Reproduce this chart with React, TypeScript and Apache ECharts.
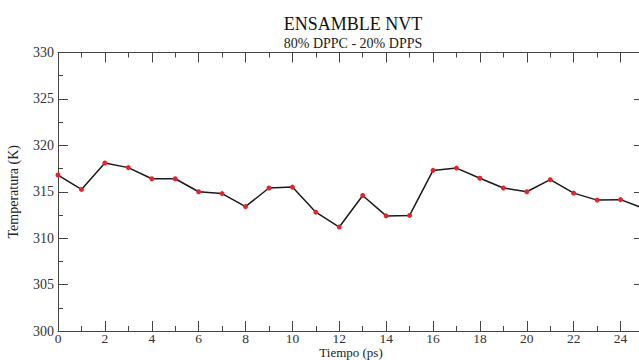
import React, { useEffect, useRef } from "react";
import * as echarts from "echarts";

const titleText = "ENSAMBLE NVT";
const subtitleText = "80% DPPC - 20% DPPS";
const xName = "Tiempo (ps)";
const yName = "Temperatura (K)";

const times = [0, 1, 2, 3, 4, 5, 6, 7, 8, 9, 10, 11, 12, 13, 14, 15, 16, 17, 18, 19, 20, 21, 22, 23, 24, 25];
const temps = [316.8, 315.25, 318.1, 317.6, 316.4, 316.4, 315.0, 314.8, 313.4, 315.4, 315.5, 312.8, 311.2, 314.6, 312.4, 312.45, 317.3, 317.55, 316.45, 315.4, 315.0, 316.3, 314.85, 314.1, 314.15, 313.2];

const xMajorTicks = [0, 2, 4, 6, 8, 10, 12, 14, 16, 18, 20, 22, 24];
const xMinorTicks = [1, 3, 5, 7, 9, 11, 13, 15, 17, 19, 21, 23];

const FONT = "'Liberation Serif', 'Times New Roman', serif";
const AXIS_COLOR = "#444";

export default function App() {
  const ref = useRef<HTMLDivElement>(null);
  useEffect(() => {
    if (!ref.current) return;
    const chart = echarts.init(ref.current, null, { renderer: "svg" });
    const grid = { left: 58, top: 52.5, width: 586, height: 278.5, outerBoundsMode: "none", containLabel: false };
    const baseX = (pos: string, ticks: number[], len: number, labels: boolean, line: boolean, extra: any = {}) => ({
      type: "value",
      position: pos,
      min: 0,
      max: 25,
      gridIndex: 0,
      splitLine: { show: false },
      axisLine: { show: line, onZero: false, lineStyle: { color: AXIS_COLOR, width: 1 } },
      axisTick: { show: true, inside: true, length: len, customValues: ticks, lineStyle: { color: AXIS_COLOR, width: 1 } },
      axisLabel: labels
        ? { show: true, customValues: ticks, fontFamily: FONT, fontSize: 13.5, lineHeight: 13, color: "#333", margin: 1 }
        : { show: false },
      ...extra,
    });
    const baseY = (pos: string, labels: boolean, extra: any = {}) => ({
      type: "value",
      position: pos,
      min: 300,
      max: 330,
      interval: 5,
      splitLine: { show: false },
      axisLine: { show: true, onZero: false, lineStyle: { color: AXIS_COLOR, width: 1 } },
      axisTick: { show: true, inside: true, length: 10, lineStyle: { color: AXIS_COLOR, width: 1 } },
      minorTick: { show: true, splitNumber: 2, length: 5, lineStyle: { color: AXIS_COLOR, width: 1 } },
      axisLabel: labels
        ? { show: true, fontFamily: FONT, fontSize: 14, color: "#333", margin: 4 }
        : { show: false },
      ...extra,
    });
    chart.setOption({
      animation: false,
      backgroundColor: "#fff",
      title: {
        text: titleText,
        subtext: subtitleText,
        left: 348,
        textAlign: "center",
        top: 10,
        itemGap: 3,
        textStyle: { fontFamily: FONT, fontSize: 18, fontWeight: "normal", color: "#111" },
        subtextStyle: { fontFamily: FONT, fontSize: 14, color: "#222" },
      },
      grid,
      xAxis: [
        baseX("bottom", xMajorTicks, 10, true, true, {
          name: xName,
          nameLocation: "middle",
          nameGap: 15,
          nameMoveOverlap: false,
          nameTextStyle: { fontFamily: FONT, fontSize: 13, lineHeight: 13, color: "#222", verticalAlign: "top" },
        }),
        baseX("bottom", xMinorTicks, 5, false, false),
        baseX("top", xMajorTicks, 10, false, true),
        baseX("top", xMinorTicks, 5, false, false),
      ],
      yAxis: [
        baseY("left", true, {
          name: yName,
          nameLocation: "middle",
          nameGap: 38,
          nameTextStyle: { fontFamily: FONT, fontSize: 14, color: "#222" },
        }),
        baseY("right", false),
      ],
      series: [
        {
          type: "line",
          xAxisIndex: 0,
          yAxisIndex: 0,
          data: times.map((t, i) => [t, temps[i]]),
          symbol: "circle",
          symbolSize: 5,
          showAllSymbol: true,
          lineStyle: { color: "#1a1a1a", width: 1.5 },
          itemStyle: { color: "#e3262b", borderWidth: 0 },
        },
      ],
    });
    return () => chart.dispose();
  }, []);
  return <div ref={ref} style={{ position: "fixed", left: 0, top: 0, width: 639, height: 360, background: "#fff" }} />;
}
